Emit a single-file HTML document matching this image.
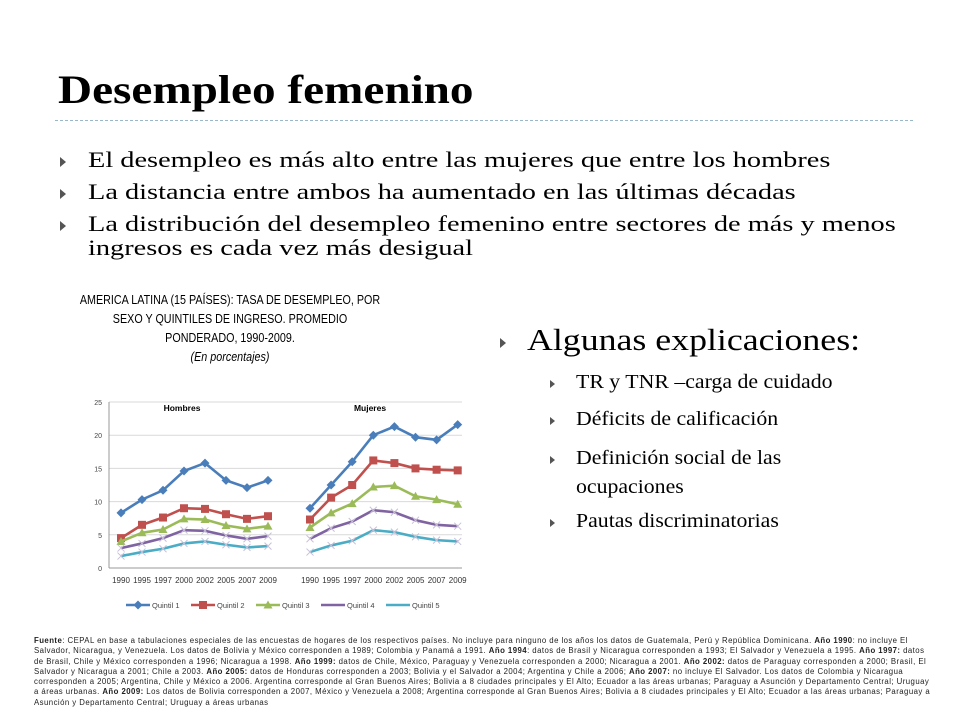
<!DOCTYPE html>
<html><head><meta charset="utf-8"><style>
body{margin:0;width:960px;height:720px;background:#fff;position:relative;overflow:hidden;font-family:"Liberation Serif",serif;color:#000}
.a{position:absolute;white-space:nowrap}
.tri{display:inline-block;width:0;height:0;border-left:6px solid #555;border-top:5px solid transparent;border-bottom:5px solid transparent}
.sx{position:absolute;transform-origin:0 0}
</style></head><body>
<div class="a" style="left:58px;top:66px;font-size:40px;font-weight:bold;transform:scaleX(1.18);transform-origin:0 0">Desempleo femenino</div>
<div class="a" style="left:55px;top:120px;width:858px;border-top:1px dashed #9bb8c8"></div>
<div class="a" style="left:60px;top:147px;font-size:22.5px"><span class="tri"></span><span class="sx" style="left:28px;transform:scaleX(1.26)">El desempleo es más alto entre las mujeres que entre los hombres</span></div>
<div class="a" style="left:60px;top:179px;font-size:22.5px"><span class="tri"></span><span class="sx" style="left:28px;transform:scaleX(1.26)">La distancia entre ambos ha aumentado en las últimas décadas</span></div>
<div class="a" style="left:60px;top:212px;font-size:22.5px;line-height:24px"><span class="tri"></span><span class="sx" style="left:28px;transform:scaleX(1.26)">La distribución del desempleo femenino entre sectores de más y menos<br>ingresos es cada vez más desigual</span></div>
<div class="a" style="left:30px;width:400px;top:291px;text-align:center;font-family:'Liberation Sans',sans-serif;font-size:12.5px;line-height:19px;transform:scaleX(0.86);transform-origin:200px 0">AMERICA LATINA (15 PAÍSES): TASA DE DESEMPLEO, POR<br>SEXO Y QUINTILES DE INGRESO. PROMEDIO<br>PONDERADO, 1990-2009.<br><i>(En porcentajes)</i></div>
<div class="a" style="left:500px;top:322px;font-size:31px"><span class="tri" style="vertical-align:middle"></span><span class="sx" style="left:27px;transform:scaleX(1.155)">Algunas explicaciones:</span></div>
<div class="a" style="left:550px;top:371px;font-size:20px"><span class="tri" style="border-left-width:5px;border-top-width:4px;border-bottom-width:4px"></span><span class="sx" style="left:26px;transform:scaleX(1.09)">TR y TNR –carga de cuidado</span></div>
<div class="a" style="left:550px;top:408px;font-size:20px"><span class="tri" style="border-left-width:5px;border-top-width:4px;border-bottom-width:4px"></span><span class="sx" style="left:26px;transform:scaleX(1.09)">Déficits de calificación</span></div>
<div class="a" style="left:550px;top:444px;font-size:20px;line-height:29px"><span class="tri" style="border-left-width:5px;border-top-width:4px;border-bottom-width:4px"></span><span class="sx" style="left:26px;transform:scaleX(1.09)">Definición social de las<br>ocupaciones</span></div>
<div class="a" style="left:550px;top:510px;font-size:20px"><span class="tri" style="border-left-width:5px;border-top-width:4px;border-bottom-width:4px"></span><span class="sx" style="left:26px;transform:scaleX(1.09)">Pautas discriminatorias</span></div>
<svg id="chart" style="position:absolute;left:0;top:0" width="960" height="720" font-family="Liberation Sans, sans-serif"></svg>
<div class="a" style="left:34px;top:636px;width:900px;white-space:normal;font-family:'Liberation Sans',sans-serif;font-size:7.8px;letter-spacing:0.45px;line-height:10.3px;color:#222"><b>Fuente</b>: CEPAL en base a tabulaciones especiales de las encuestas de hogares de los respectivos países. No incluye para ninguno de los años los datos de Guatemala, Perú y República Dominicana. <b>Año 1990</b>: no incluye El Salvador, Nicaragua, y Venezuela. Los datos de Bolivia y México corresponden a 1989; Colombia y Panamá a 1991. <b>Año 1994</b>: datos de Brasil y Nicaragua corresponden a 1993; El Salvador y Venezuela a 1995. <b>Año 1997:</b> datos de Brasil, Chile y México corresponden a 1996; Nicaragua a 1998. <b>Año 1999:</b> datos de Chile, México, Paraguay y Venezuela corresponden a 2000; Nicaragua a 2001. <b>Año 2002:</b> datos de Paraguay corresponden a 2000; Brasil, El Salvador y Nicaragua a 2001; Chile a 2003. <b>Año 2005:</b> datos de Honduras corresponden a 2003; Bolivia y el Salvador a 2004; Argentina y Chile a 2006; <b>Año 2007:</b> no incluye El Salvador. Los datos de Colombia y Nicaragua corresponden a 2005; Argentina, Chile y México a 2006. Argentina corresponde al Gran Buenos Aires; Bolivia a 8 ciudades principales y El Alto; Ecuador a las áreas urbanas; Paraguay a Asunción y Departamento Central; Uruguay a áreas urbanas. <b>Año 2009:</b> Los datos de Bolivia corresponden a 2007, México y Venezuela a 2008; Argentina corresponde al Gran Buenos Aires; Bolivia a 8 ciudades principales y El Alto; Ecuador a las áreas urbanas; Paraguay a Asunción y Departamento Central; Uruguay a áreas urbanas</div>
<script>
const years=["1990","1995","1997","2000","2002","2005","2007","2009"];
const yTicks=[0,5,10,15,20,25];
const seriesNames=["Quintil 1","Quintil 2","Quintil 3","Quintil 4","Quintil 5"];
const hombres=[[8.3,10.3,11.7,14.6,15.8,13.2,12.1,13.2],[4.5,6.5,7.6,9.0,8.9,8.1,7.4,7.8],[4.0,5.3,5.8,7.4,7.3,6.4,5.9,6.3],[3.0,3.7,4.5,5.7,5.6,4.9,4.4,4.8],[1.8,2.4,2.9,3.7,4.0,3.5,3.1,3.3]];
const mujeres=[[9.0,12.5,16.0,20.0,21.3,19.7,19.3,21.6],[7.3,10.6,12.5,16.2,15.8,15.0,14.8,14.7],[6.1,8.3,9.7,12.2,12.4,10.8,10.3,9.6],[4.4,6.0,7.0,8.7,8.4,7.2,6.5,6.3],[2.4,3.4,4.1,5.7,5.4,4.7,4.2,4.0]];
const colors=["#4a7ebb","#c0504d","#9bbb59","#8064a2","#4bacc6"];
const svg=document.getElementById('chart');const NS='http://www.w3.org/2000/svg';
function mk(t,a,p){const e=document.createElementNS(NS,t);for(const k in a)e.setAttribute(k,a[k]);(p||svg).appendChild(e);return e;}
const y=v=>568-v*6.64;
const xH=i=>121+i*21;const xM=i=>310+i*21.1;
for(const t of yTicks){
 const g=mk('line',{x1:109,x2:462,y1:y(t),y2:y(t),stroke:t?'#d9d9d9':'#999','stroke-width':1});
 
 const l=mk('text',{x:102,y:y(t)+3,'font-size':7,'text-anchor':'end',fill:'#444'});l.textContent=t;
 
}
const ax=mk('line',{x1:109,x2:109,y1:y(25),y2:y(0),stroke:'#999'});

years.forEach((yr,i)=>{for(const [xf,p] of [[xH,'h'],[xM,'m']]){const t=mk('text',{x:xf(i),y:583,'font-size':8,'text-anchor':'middle',fill:'#333'});t.textContent=yr;
 }});
for(const [x0,txt] of [[182,'Hombres'],[370,'Mujeres']]){const t=mk('text',{x:x0,y:411,'font-size':8.5,'font-weight':'bold','text-anchor':'middle'});t.textContent=txt;
 }
function marker(s,cx,cy,c,g){
 if(s==0)return mk('polygon',{points:`${cx},${cy-4.5} ${cx+4.5},${cy} ${cx},${cy+4.5} ${cx-4.5},${cy}`,fill:c},g);
 if(s==1)return mk('rect',{x:cx-4,y:cy-4,width:8,height:8,fill:c},g);
 if(s==2)return mk('polygon',{points:`${cx},${cy-4.5} ${cx+4.5},${cy+3.5} ${cx-4.5},${cy+3.5}`,fill:c},g);
 return mk('path',{d:`M${cx-3.5} ${cy-3.5}L${cx+3.5} ${cy+3.5}M${cx+3.5} ${cy-3.5}L${cx-3.5} ${cy+3.5}`,stroke:'#c9c0d8','stroke-width':1},g);
}
function drawPanel(data,xf,p){
 data.forEach((vals,s)=>{
  const g=mk('g',{});
  mk('polyline',{points:vals.map((v,i)=>xf(i)+','+y(v)).join(' '),fill:'none',stroke:colors[s],'stroke-width':2.6},g);
  vals.forEach((v,i)=>{const m=marker(s,xf(i),y(v),colors[s],g);});
 });
}
drawPanel(hombres,xH,'hombres');drawPanel(mujeres,xM,'mujeres');
seriesNames.forEach((n,s)=>{const lx=126+s*65;const g=mk('g',{});
 
 mk('line',{x1:lx,x2:lx+24,y1:605,y2:605,stroke:colors[s],'stroke-width':2.6},g);
 if(s<3)marker(s,lx+12,605,colors[s],g);
 const t=mk('text',{x:lx+26,y:608,'font-size':7.5,fill:'#444'},g);t.textContent=n;});
</script>
</body></html>
